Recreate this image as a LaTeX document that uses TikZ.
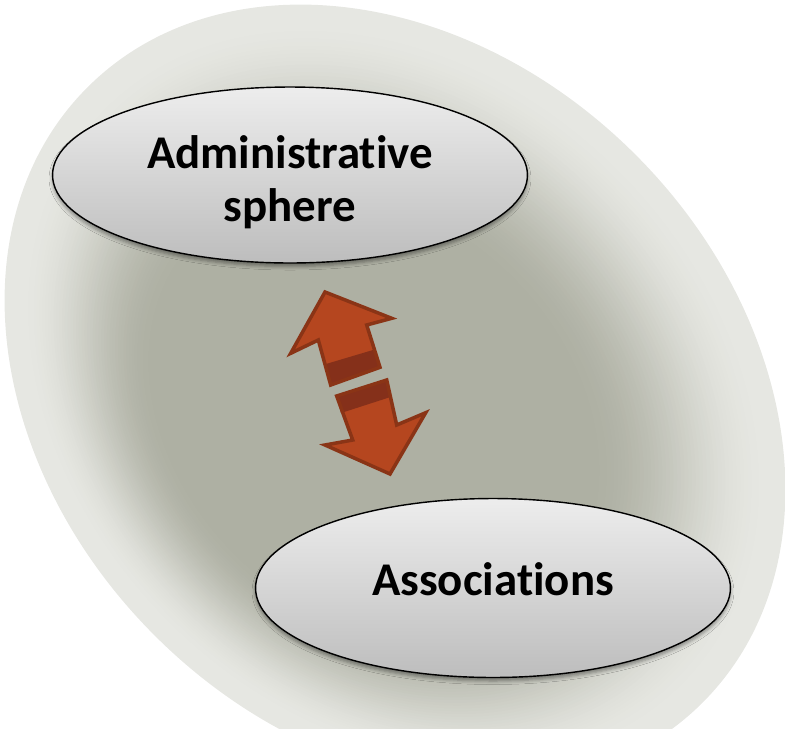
\documentclass[tikz,border=0pt]{standalone}
\usepackage{fontspec}
\setmainfont[Ligatures=NoCommon]{Carlito}
\usetikzlibrary{shapes.geometric,shadows.blur}
\definecolor{bgdark}{HTML}{AEB0A3}
\definecolor{bglight}{HTML}{E6E7E2}
\definecolor{arrowfill}{HTML}{B5461F}
\definecolor{arrowedge}{HTML}{8A3416}
\definecolor{arrowside}{HTML}{85301A}
\definecolor{bubbletop}{HTML}{EDEDED}
\definecolor{bubblebot}{HTML}{BDBDBD}
\tikzset{
	bubble/.style={ellipse, draw=black, line width=0.8pt, top color=bubbletop, bottom color=bubblebot, minimum width=9.5cm, minimum height=3.52cm, inner sep=0pt, blur shadow={shadow xshift=0pt, shadow yshift=-2pt, shadow blur radius=2pt, shadow opacity=40}},
	caption/.style={font=\bfseries\fontsize{26.7pt}{30.3pt}\selectfont, align=center, inner sep=0pt},
	arrowbody/.style={fill=arrowfill},
	arrowline/.style={draw=arrowedge, line width=2pt, line join=miter},
	blockside/.style={fill=arrowside}
}
\begin{document}
\begin{tikzpicture}[x=0.02cm,y=-0.02cm]
	\useasboundingbox (0,0) rectangle (785,728);
	% backdrop, light rim fading to a dark middle
	\fill[bglight, rotate around={-45:(395,395)}] (395,395) ellipse [x radius=435, y radius=340];
	\foreach \k in {0,...,48}{
		\pgfmathsetmacro\t{\k/48}
		\pgfmathsetmacro\f{0.96-0.4*\t}
		\pgfmathsetmacro\p{100*(3*\t*\t-2*\t*\t*\t)}
		\pgfmathsetmacro\rx{435*\f}
		\pgfmathsetmacro\ry{340*\f}
		\pgfmathsetmacro\cx{395-22*\t}
		\pgfmathsetmacro\cy{395+22*\t}
		\fill[bgdark!\p!bglight, rotate around={-45:(\cx,\cy)}] (\cx,\cy) ellipse [x radius=\rx, y radius=\ry];
	}
	% the two spheres
	\node[bubble] (admin) at (290,175) {};
	\node[caption] (admintext) at (290,182) {Administrative\\sphere};
	\node[bubble, minimum height=3.58cm] (assoc) at (493,588) {};
	\node[caption] (assoctext) at (493,579) {Associations};
	% up arrow
	\fill[arrowbody] (325,292) -- (391.7,318.3) -- (366.7,325) -- (380,367.3) -- (330.7,385) -- (318.3,340) -- (290.7,353.3) -- cycle;
	\fill[blockside] (326,364) -- (373,350) -- (380,367.3) -- (330.7,385) -- cycle;
	\draw[arrowline] (325,292) -- (391.7,318.3) -- (366.7,325) -- (380,367.3) -- (330.7,385) -- (318.3,340) -- (290.7,353.3) -- cycle;
	% down arrow
	\fill[arrowbody] (336.7,396) -- (386.7,380) -- (396.7,425) -- (425.7,412.7) -- (390,474) -- (325,445) -- (352.7,440) -- cycle;
	\fill[blockside] (336.7,396) -- (386.7,380) -- (390.5,397) -- (341,413) -- cycle;
	\draw[arrowline] (336.7,396) -- (386.7,380) -- (396.7,425) -- (425.7,412.7) -- (390,474) -- (325,445) -- (352.7,440) -- cycle;
\end{tikzpicture}
\end{document}
